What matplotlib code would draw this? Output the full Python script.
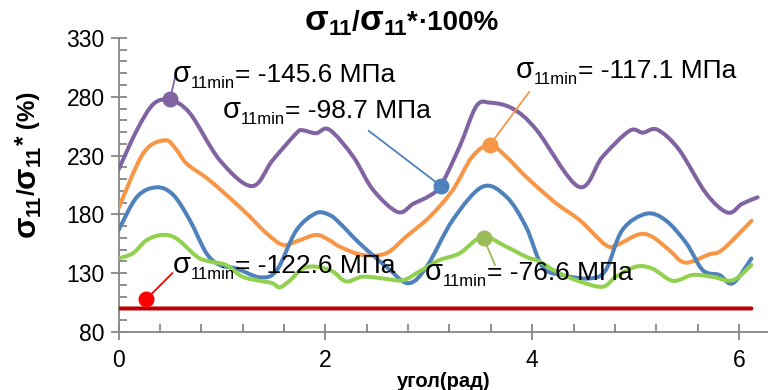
import matplotlib
matplotlib.use("Agg")
import numpy as np
import matplotlib.pyplot as plt
from matplotlib.path import Path
from matplotlib.patches import PathPatch
from matplotlib.ticker import MultipleLocator

plt.rcParams["font.family"] = ["Liberation Sans", "DejaVu Sans"]

# Stress ratio curves, angle in radians
purple_x = [0, 0.18, 0.34, 0.5, 0.69, 0.98, 1.29, 1.49, 1.72, 1.78, 1.91, 2.04, 2.27, 2.46,
            2.70, 2.85, 3.01, 3.12, 3.30, 3.46, 3.59, 3.81, 4.04, 4.45, 4.68, 4.94, 5.07,
            5.21, 5.42, 5.68, 5.89, 6.03, 6.18]
purple_y = [218, 252, 274, 277, 266, 226, 204, 226, 249, 251.5, 249, 252, 229, 201,
            182, 189, 196, 205, 238, 272, 275, 270, 252, 203.5, 229, 251, 249.5,
            252, 235, 198, 181.5, 189, 194.5]

orange_x = [0, 0.24, 0.45, 0.56, 0.66, 0.88, 1.2, 1.43, 1.59, 1.72, 1.91, 2.04, 2.14, 2.36,
            2.59, 2.78, 3.01, 3.23, 3.42, 3.59, 3.75, 3.94, 4.23, 4.46, 4.71, 4.82, 5.03,
            5.16, 5.32, 5.48, 5.71, 5.84, 6.12]
orange_y = [185, 232, 243, 235, 223, 209, 184, 164, 154, 157, 162.5, 158, 152.5, 145.5,
            147, 161, 178, 200.5, 229, 239, 229, 212, 189.5, 175, 154, 154, 163,
            161, 150, 139, 146, 150, 174.5]

blue_x = [0, 0.18, 0.37, 0.53, 0.69, 0.85, 0.98, 1.14, 1.37, 1.53, 1.72, 1.91, 2.04, 2.14,
          2.33, 2.59, 2.80, 2.98, 3.23, 3.52, 3.75, 3.94, 4.10, 4.29, 4.55, 4.71, 4.87,
          5.10, 5.29, 5.49, 5.65, 5.81, 5.94, 6.12]
blue_y = [166.5, 195, 203, 196.5, 175, 147, 137, 134, 126.5, 132.5, 166.5, 181, 179.5, 172.5,
          155.5, 135.5, 121.5, 135.5, 175, 203.5, 195, 169.5, 135.5, 128.5, 125.5, 132.5, 166.5,
          180.5, 175, 155.5, 132.5, 128.5, 121.5, 142.5]

green_x = [0, 0.14, 0.27, 0.42, 0.56, 0.76, 0.88, 1.04, 1.2, 1.4, 1.49, 1.56, 1.66, 1.78,
           1.91, 2.07, 2.20, 2.36, 2.56, 2.75, 2.91, 3.10, 3.30, 3.52, 3.75, 3.94, 4.07,
           4.23, 4.46, 4.68, 4.81, 5.0, 5.16, 5.36, 5.55, 5.74, 5.94, 6.12]
green_y = [142.5, 147, 158, 162.5, 159.5, 144, 140, 137, 127, 123, 121.5, 118, 124, 134,
           135.5, 131.5, 123, 127, 125.5, 124, 131.5, 141, 147, 161, 152.5, 144, 140,
           131.5, 123, 118.5, 127, 135.5, 134, 123.5, 128.5, 127, 124, 137]

red_x = [0, 6.12]
red_y = [100, 100]

# Minimum stress callouts: marker point, leader end, text baseline start, value
callout_colors = ["#8064A2", "#4F81BD", "#F79646", "#FF0000", "#9BBB59"]
callout_points = [(0.5, 278), (3.12, 204), (3.59, 239), (0.27, 108), (3.53, 160)]
callout_ends = [(0.55, 298), (2.42, 251), (3.97, 284), (0.52, 130), (3.64, 137)]
callout_text_pos = [(0.529, 292.8), (1.012, 261.7), (3.844, 295.7), (0.529, 129.9), (2.96, 124.2)]
callout_values = ["-145.6", "-98.7", "-117.1", "-122.6", "-76.6"]

DESCENT = 0.212  # Liberation Sans descent, fraction of font size


def smooth_path(xs, ys):
    """Catmull-Rom style Bezier through the points (like Excel smoothed lines)."""
    pts = np.column_stack([xs, ys]).astype(float)
    n = len(pts)
    verts = [pts[0]]
    codes = [Path.MOVETO]
    for i in range(n - 1):
        p0 = pts[i - 1] if i > 0 else pts[i]
        p1 = pts[i]
        p2 = pts[i + 1]
        p3 = pts[i + 2] if i + 2 < n else pts[i + 1]
        verts += [p1 + (p2 - p0) / 6, p2 - (p3 - p1) / 6, p2]
        codes += [Path.CURVE4] * 3
    return Path(verts, codes)


def chain_text(ax, xy, coords, pieces, weight="normal", rotation=0):
    """Draw text pieces (string, size, shift) one after another on a common baseline."""
    s0, size0, _ = pieces[0]
    first = ax.annotate(s0, xy=xy, xycoords=coords, fontsize=size0, fontweight=weight,
                        ha="left", va="baseline", rotation=rotation,
                        rotation_mode="anchor", annotation_clip=False, zorder=6)
    prev = first
    desc = DESCENT * size0
    for s, size, shift in pieces[1:]:
        if rotation == 0:
            kw = dict(xy=(1, 0), xycoords=(prev, first), xytext=(0, desc + shift))
        else:
            kw = dict(xy=(1, 1), xycoords=(first, prev), xytext=(-(desc + shift), 0))
        prev = ax.annotate(s, textcoords="offset points", fontsize=size, fontweight=weight,
                           ha="left", va="baseline", rotation=rotation,
                           rotation_mode="anchor", annotation_clip=False, zorder=6, **kw)
    return first


fig = plt.figure(figsize=(7.68, 3.9), dpi=100)
ax = fig.add_axes([0.1543, 0.1487, 0.8457, 0.754])

lw = 2.9
for xs, ys, c in [(purple_x, purple_y, "#8064A2"), (orange_x, orange_y, "#F79646"),
                  (blue_x, blue_y, "#4F81BD"), (green_x, green_y, "#92D050"),
                  (red_x, red_y, "#C00000")]:
    ax.add_patch(PathPatch(smooth_path(xs, ys), fill=False, edgecolor=c, lw=lw,
                           capstyle="round", joinstyle="round", zorder=3))

for c, p, e, t, v in zip(callout_colors, callout_points, callout_ends,
                         callout_text_pos, callout_values):
    ax.plot([p[0], e[0]], [p[1], e[1]], color=c, lw=1.3, zorder=4)
    ax.plot(p[0], p[1], "o", color=c, ms=10.5, zorder=5)
    chain_text(ax, t, "data", [("σ", 21, 0), ("11min", 12, -4.5), ("= " + v + " МПа", 19, 0)])

ax.set_xlim(0, 6.28)
ax.set_ylim(80, 330)
ax.xaxis.set_major_locator(MultipleLocator(2))
ax.xaxis.set_minor_locator(MultipleLocator(0.4))
ax.set_yticks(np.arange(80, 331, 50))
ax.yaxis.set_minor_locator(MultipleLocator(10))

for side in ["top", "right"]:
    ax.spines[side].set_visible(False)
for side in ["left", "bottom"]:
    ax.spines[side].set_color("#868686")
    ax.spines[side].set_linewidth(1.3)

ax.tick_params(which="major", direction="inout", length=12, width=1.3, color="#868686",
               labelsize=16.5, pad=4)
ax.tick_params(which="minor", direction="in", length=6, width=1.3, color="#868686")
ax.tick_params(axis="x", which="major", pad=6)

ax.set_xlabel("угол(рад)", fontsize=14.5, fontweight="bold", labelpad=0)

# y axis title and chart title
chain_text(ax, (0.045, 0.392), "figure fraction",
           [("σ", 22.5, 0), ("11", 14.5, -3.5), ("/", 17.5, 0), ("σ", 22.5, 0), ("11", 14.5, -3.5),
            ("*", 17.5, 3), (" (%)", 17.5, 0)], weight="bold", rotation=90)
chain_text(ax, (0.397, 0.923), "figure fraction",
           [("σ", 25, 0), ("11", 16, -3.5), ("/", 20, 0), ("σ", 25, 0), ("11", 16, -3.5),
            ("*", 20, 0), ("·100%", 20, 0)], weight="bold")

fig.savefig("out.png", dpi=100)
